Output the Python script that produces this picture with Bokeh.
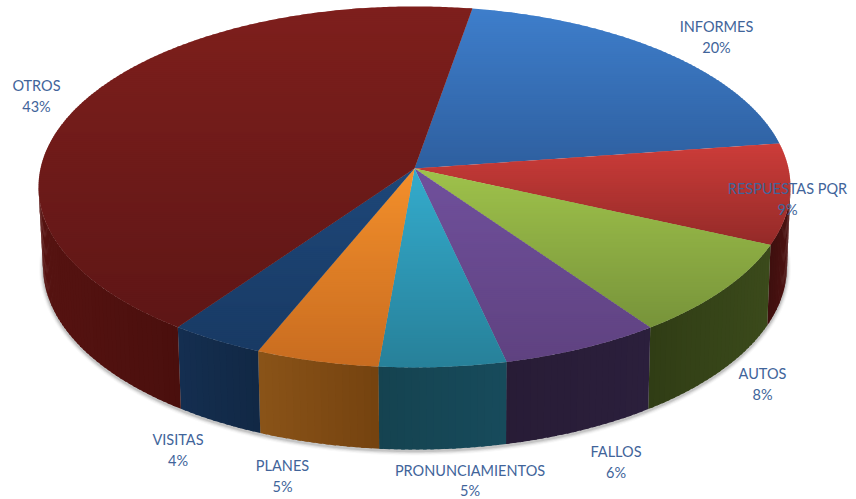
import math
from bokeh.plotting import figure
from bokeh.embed import file_html
from bokeh.resources import INLINE
from bokeh.core.properties import value

# Data (clockwise from the slice that starts near the top)
categories = ["INFORMES", "RESPUESTAS PQR", "AUTOS", "FALLOS", "PRONUNCIAMIENTOS", "PLANES", "VISITAS", "OTROS"]
shares = [20.0, 9.0, 8.47, 6.25, 4.94, 4.8, 3.67, 42.87]

# Styles
top_from = ["#3e7ecb", "#cc3c39", "#9fc24b", "#70509c", "#34abcc", "#f38f2b", "#1e4779", "#7e1f1c"]
top_to = ["#2e5f9f", "#932a28", "#77933a", "#5f4280", "#278099", "#c86c20", "#183a64", "#5e1616"]
side_from = ["#24426e", "#4e1312", "#3b4a1b", "#2b1f3c", "#174b5c", "#8a5318", "#142e50", "#561311"]
side_to = ["#24426e", "#3e0f0e", "#303d15", "#281c36", "#154350", "#74420f", "#112844", "#4a0f0d"]
label_x = [716, 787, 762, 615.5, 469.5, 282, 177.5, 36]
label_y = [26, 188, 373, 451, 469.5, 465, 439, 85]
text_color = "#41649a"

START_DEG = 80.2
TOP = dict(cx=414.0, cy=168.0, a=374.0, b=178.6)
BASE = dict(cx=414.5, cy=247.5, a=370.0, b=181.0)
K = 0.102


def project(deg, g, grow=0.0, dy=0.0):
    t = math.radians(deg)
    d = 1 + K * math.sin(t)
    return (g["cx"] + (g["a"] + grow) * math.cos(t) / d,
            g["cy"] + dy - (g["b"] + grow) * math.sin(t) / d)


def clip(poly, lo, hi):
    def half(points, inside, cut):
        out = []
        for i, p in enumerate(points):
            q = points[(i + 1) % len(points)]
            if inside(p):
                out.append(p)
            if inside(p) != inside(q):
                f = (cut - p[1]) / (q[1] - p[1])
                out.append((p[0] + f * (q[0] - p[0]), cut))
        return out
    poly = half(poly, lambda p: p[1] >= lo, lo)
    if poly:
        poly = half(poly, lambda p: p[1] <= hi, hi)
    return poly


def rgb(h):
    return [int(h[i:i + 2], 16) for i in (1, 3, 5)]


def mix(c1, c2, f):
    f = max(0.0, min(1.0, f))
    a, b = rgb(c1), rgb(c2)
    return "#%02x%02x%02x" % tuple(round(a[i] + (b[i] - a[i]) * f) for i in range(3))


def arc(d0, d1):
    n = max(2, int(abs(d1 - d0) * 2))
    return [d0 + (d1 - d0) * i / n for i in range(n + 1)]


p = figure(width=856, height=499, x_range=(0, 856), y_range=(499, 0),
           toolbar_location=None, output_backend="svg", min_border=0,
           outline_line_color=None, background_fill_color="white")
p.axis.visible = False
p.grid.visible = False

# Soft shadow under the solid
for grow, alpha in zip([4.0, 3.0, 2.0, 1.0], [0.03, 0.06, 0.09, 0.13]):
    ring = [project(d, BASE, grow=grow, dy=1.5) for d in arc(-200, 20)]
    p.patch([q[0] for q in ring], [q[1] for q in ring], fill_color="#303030",
            fill_alpha=alpha, line_color=None)

# Slice limits
limits = [START_DEG]
for s in shares:
    limits.append(limits[-1] - s * 3.6)

# Side walls
sx, sy, sc = [], [], []
for i, s in enumerate(shares):
    d0, d1 = limits[i], limits[i + 1]
    lo, hi = max(d1, -174.2), min(d0, -5.8)
    if hi <= lo:
        continue
    a = arc(hi, lo)
    xa, xb = project(hi, TOP)[0], project(lo, TOP)[0]
    for j in range(0, len(a) - 1, 2):
        e0, e1 = a[j], a[min(j + 3, len(a) - 1)]
        quad = [project(e0, TOP), project(e1, TOP), project(e1, BASE), project(e0, BASE)]
        sx.append([q[0] for q in quad])
        sy.append([q[1] for q in quad])
        mid = project((e0 + e1) / 2, TOP)[0]
        span = max(1.0, abs(xa - xb))
        # each wall darkens towards the front of the solid
        f = abs(mid - xb) / span if i >= 5 else abs(mid - xa) / span
        sc.append(mix(side_from[i], side_to[i], f))
p.patches(sx, sy, fill_color=sc, line_color=None)

# Top faces, painted in thin horizontal bands for the vertical gradient
STEP = 2.0
tx, ty, tc = [], [], []
for i, s in enumerate(shares):
    rim = [project(d, TOP) for d in arc(limits[i], limits[i + 1])]
    poly = [(TOP["cx"], TOP["cy"])] + rim
    ys = [q[1] for q in poly]
    y0, y1 = min(ys), max(ys)
    y = y0
    while y < y1:
        piece = clip(poly, y, y + STEP + 0.8)
        if len(piece) >= 3:
            tx.append([q[0] for q in piece])
            ty.append([q[1] for q in piece])
            tc.append(mix(top_from[i], top_to[i], (y - y0) / max(1.0, y1 - y0)))
        y += STEP
p.patches(tx, ty, fill_color=tc, line_color=None)

# Labels
pct = ["%d%%" % round(s) for s in shares]
p.text(label_x, label_y, text=categories, text_align="center", text_baseline="middle",
       text_font=value("Lato"), text_font_size="14.5px", text_color=text_color)
p.text(label_x, [y + 20.5 for y in label_y], text=pct, text_align="center", text_baseline="middle",
       text_font=value("Lato"), text_font_size="14.5px", text_color=text_color)

html = file_html(p, INLINE)
html = html.replace("<head>", "<head><style>html,body{margin:0;padding:0;overflow:hidden}</style>", 1)
open("out.html", "w").write(html)
